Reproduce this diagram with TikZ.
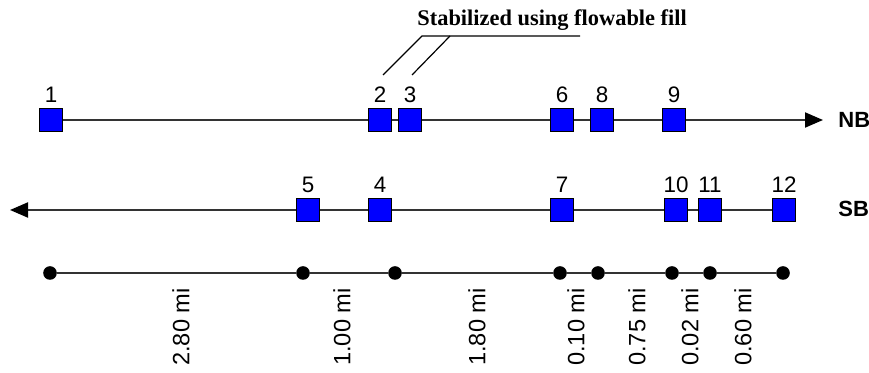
\documentclass[tikz,border=0pt]{standalone}
\usepackage{fontspec}
\setmainfont{Liberation Serif}
\setsansfont{Liberation Sans}
\usetikzlibrary{arrows.meta}
\tikzset{
  site/.style={draw=black, fill=blue, minimum size=11.5pt, inner sep=0pt, line width=0.5pt},
  num/.style={font=\sffamily\fontsize{11.2}{13}\selectfont, inner sep=0pt, anchor=base},
  dirn/.style={font=\sffamily\bfseries\fontsize{11}{13}\selectfont, inner sep=0pt, anchor=base west},
  road/.style={draw=black!80, line width=1pt},
  tick/.style={circle, fill=black, minimum size=6.8pt, inner sep=0pt},
  dist/.style={font=\sffamily\fontsize{11.8}{13}\selectfont, inner sep=0pt, rotate=90, anchor=east},
  callout/.style={draw=black, line width=0.6pt}
}
\begin{document}
\begin{tikzpicture}[x=0.5pt, y=-0.5pt, >={Triangle[black, length=9pt, width=7.5pt]}]
    \useasboundingbox (0,0) rectangle (869,373);
    % title and callout
    \node [font=\bfseries\fontsize{11.2}{13}\selectfont, inner sep=0pt, anchor=base west] (title) at (417,26) {Stabilized using flowable fill};
    \coordinate (c2) at (383,75);
    \coordinate (c3) at (412,75);
    \coordinate (k2) at (422,36);
    \coordinate (k3) at (450,36);
    \coordinate (kend) at (580,36);
    \draw [callout] (c2) -- (k2) -- (kend);
    \draw [callout] (c3) -- (k3);
    % northbound
    \begin{scope}[every node/.style={site}]
        \node (s1) at (51,120) {};
        \node (s2) at (380,120) {};
        \node (s3) at (410,120) {};
        \node (s6) at (562,120) {};
        \node (s8) at (602,120) {};
        \node (s9) at (674,120) {};
    \end{scope}
    \node [num] (n1) at (51,103) {1};
    \node [num] (n2) at (380,103) {2};
    \node [num] (n3) at (410,103) {3};
    \node [num] (n6) at (562,103) {6};
    \node [num] (n8) at (602,103) {8};
    \node [num] (n9) at (674,103) {9};
    \coordinate (nbtip) at (823,120);
    \node [dirn] (nb) at (838,128) {NB};
    \draw [road] (s1) -- (s2) -- (s3) -- (s6) -- (s8) -- (s9);
    \draw [road, ->] (s9) -- (nbtip);
    % southbound
    \begin{scope}[every node/.style={site}]
        \node (s5) at (308,210) {};
        \node (s4) at (380,210) {};
        \node (s7) at (562,210) {};
        \node (s10) at (676,210) {};
        \node (s11) at (710,210) {};
        \node (s12) at (784,210) {};
    \end{scope}
    \node [num] (n5) at (308,193) {5};
    \node [num] (n4) at (380,193) {4};
    \node [num] (n7) at (562,193) {7};
    \node [num] (n10) at (676,193) {10};
    \node [num] (n11) at (710,193) {11};
    \node [num] (n12) at (784,193) {12};
    \coordinate (sbtip) at (10,210);
    \node [dirn] (sb) at (838,217) {SB};
    \draw [road] (s12) -- (s11) -- (s10) -- (s7) -- (s4) -- (s5);
    \draw [road, ->] (s5) -- (sbtip);
    % mileage scale
    \begin{scope}[every node/.style={tick}]
        \node (d1) at (50,273) {};
        \node (d2) at (303,273) {};
        \node (d3) at (395,273) {};
        \node (d4) at (560,273) {};
        \node (d5) at (598,273) {};
        \node (d6) at (672,273) {};
        \node (d7) at (710,273) {};
        \node (d8) at (783,273) {};
    \end{scope}
    \draw [road] (d1) -- (d2) -- (d3) -- (d4) -- (d5) -- (d6) -- (d7) -- (d8);
    \node [dist] (m1) at (181,288) {2.80 mi};
    \node [dist] (m2) at (342,288) {1.00 mi};
    \node [dist] (m3) at (477,288) {1.80 mi};
    \node [dist] (m4) at (576,288) {0.10 mi};
    \node [dist] (m5) at (637,288) {0.75 mi};
    \node [dist] (m6) at (690,288) {0.02 mi};
    \node [dist] (m7) at (743,288) {0.60 mi};
\end{tikzpicture}
\end{document}
